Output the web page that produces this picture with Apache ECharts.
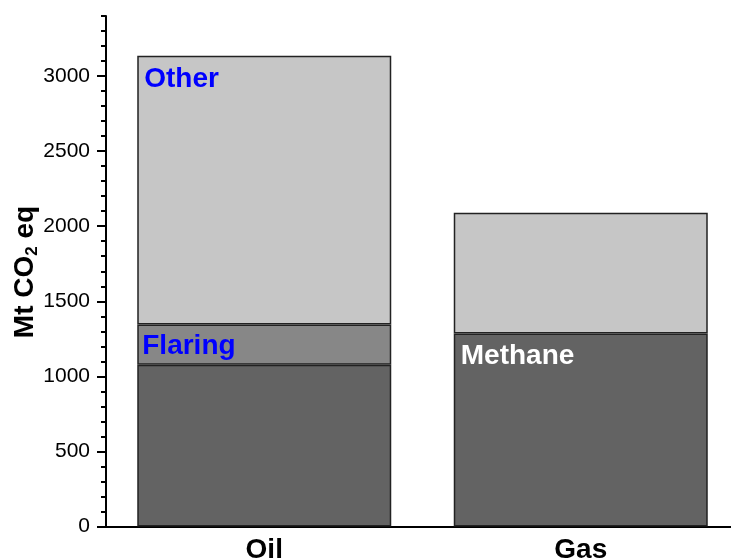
<!DOCTYPE html>
<html>
<head>
<meta charset="utf-8">
<script src="https://cdn.jsdelivr.net/npm/echarts@6/dist/echarts.min.js"></script>
<style>
html,body{margin:0;padding:0;background:#fff;}
#chart{width:731px;height:560px;}
</style>
</head>
<body>
<div id="chart"></div>
<script>
// ---- data ----
var categories = ['Oil', 'Gas'];
var methane = [1078, 1285];
var flaring = [267, null];
var other = [1790, 805];
var yMajorTicks = [0, 500, 1000, 1500, 2000, 2500, 3000];
var yMinorTicks = [100,200,300,400,600,700,800,900,1100,1200,1300,1400,1600,1700,1800,1900,2100,2200,2300,2400,2600,2700,2800,2900,3100,3200,3300,3400];
var methaneLabelOn = [false, true];
var flaringLabelOn = [true, false];
var otherLabelOn = [true, false];

var FONT = 'Liberation Sans, Arial, sans-serif';

function items(values, shown) {
  return values.map(function (v, i) {
    return { value: v, label: { show: !!shown[i] } };
  });
}

var chart = echarts.init(document.getElementById('chart'), null, { renderer: 'canvas' });
var yBase = { type: 'value', min: 0, max: 3400, position: 'left', splitLine: { show: false } };

chart.setOption({
  animation: false,
  backgroundColor: '#ffffff',
  grid: { left: 106, width: 633, top: 16, height: 510.5, containLabel: false, outerBoundsMode: 'none' },
  xAxis: {
    type: 'category',
    data: categories,
    axisLine: { show: true, lineStyle: { color: '#000', width: 2 } },
    axisTick: { show: false },
    axisLabel: { margin: 10, fontFamily: FONT, fontSize: 28, fontWeight: 'bold', color: '#000' }
  },
  yAxis: [
    Object.assign({}, yBase, {
      interval: 500,
      axisLine: { show: true, lineStyle: { color: '#000', width: 2 } },
      axisTick: { show: true, length: 9, customValues: yMajorTicks, lineStyle: { color: '#000', width: 2 } },
      axisLabel: { show: true, customValues: yMajorTicks, margin: 16, fontFamily: FONT, fontSize: 21, color: '#000',
        formatter: function (v) { return String(v); } }
    }),
    Object.assign({}, yBase, {
      interval: 100,
      axisLine: { show: false },
      axisTick: { show: true, length: 5, customValues: yMinorTicks, lineStyle: { color: '#000', width: 2 } },
      axisLabel: { show: false }
    })
  ],
  graphic: [{
    type: 'text',
    x: 25, y: 272,
    rotation: Math.PI / 2,
    style: {
      text: '{b|Mt CO}{s|2}{b| eq}',
      align: 'center',
      verticalAlign: 'middle',
      rich: {
        b: { fontFamily: FONT, fontSize: 28, fontWeight: 'bold', fill: '#000' },
        s: { fontFamily: FONT, fontSize: 17, fontWeight: 'bold', fill: '#000', padding: [14, 0, 0, 0] }
      }
    }
  }],
  series: [
    {
      name: 'Methane', type: 'bar', stack: 'total', barWidth: 254,
      data: items(methane, methaneLabelOn),
      itemStyle: { color: '#636363', borderColor: '#222', borderWidth: 1.5 },
      label: { position: 'insideTopLeft', distance: 5, offset: [2, 4], formatter: 'Methane', fontFamily: FONT, fontSize: 28, fontWeight: 'bold', color: '#fff' }
    },
    {
      name: 'Flaring', type: 'bar', stack: 'total',
      data: items(flaring, flaringLabelOn),
      itemStyle: { color: '#878787', borderColor: '#222', borderWidth: 1.5 },
      label: { position: 'insideLeft', distance: 5, offset: [0, 2], formatter: 'Flaring', fontFamily: FONT, fontSize: 28, fontWeight: 'bold', color: '#0000ff' }
    },
    {
      name: 'Other', type: 'bar', stack: 'total',
      data: items(other, otherLabelOn),
      itemStyle: { color: '#c6c6c6', borderColor: '#222', borderWidth: 1.5 },
      label: { position: 'insideTopLeft', distance: 5, offset: [2, 4], formatter: 'Other', fontFamily: FONT, fontSize: 28, fontWeight: 'bold', color: '#0000ff' }
    }
  ]
});
</script>
</body>
</html>
